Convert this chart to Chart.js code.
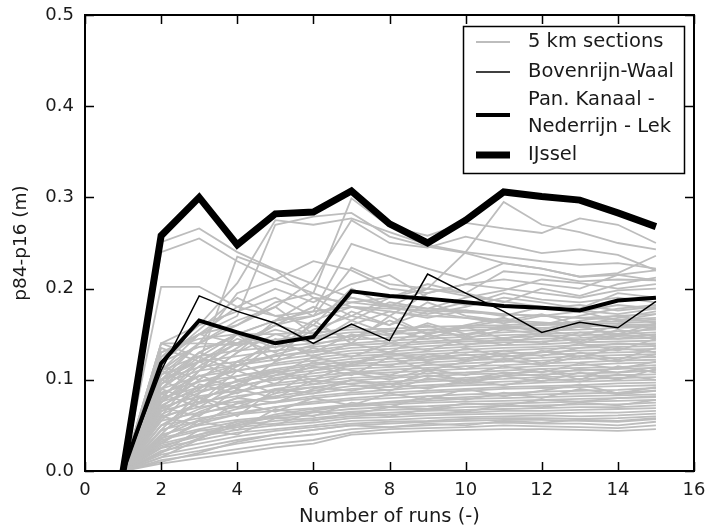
<!DOCTYPE html>
<html>
<head>
<meta charset="utf-8">
<script src="https://cdn.jsdelivr.net/npm/chart.js@4.4.1/dist/chart.umd.min.js"></script>
<style>
  html, body { margin: 0; padding: 0; background: #ffffff; }
  #wrap { width: 707px; height: 532px; position: relative; }
</style>
</head>
<body>
<div id="wrap"><canvas id="c" width="707" height="532"></canvas></div>
<script>
// ---------- DATA ----------
const runs = [1, 2, 3, 4, 5, 6, 7, 8, 9, 10, 11, 12, 13, 14, 15];
const xTicks = [0, 2, 4, 6, 8, 10, 12, 14, 16];
const yTicks = [0.0, 0.1, 0.2, 0.3, 0.4, 0.5];

const ijssel       = [0, 0.258, 0.300, 0.248, 0.282, 0.284, 0.307, 0.271, 0.250, 0.275, 0.306, 0.301, 0.297, 0.283, 0.268];
const panKanaal    = [0, 0.118, 0.165, 0.152, 0.140, 0.147, 0.197, 0.192, 0.189, 0.185, 0.181, 0.179, 0.176, 0.187, 0.190];
const bovenrijn    = [0, 0.110, 0.192, 0.175, 0.162, 0.140, 0.161, 0.143, 0.216, 0.195, 0.175, 0.152, 0.163, 0.157, 0.186];

// 5 km sections (grey lines), one row per section
const sections5km = [
  [0,0.008,0.014,0.020,0.026,0.030,0.040,0.042,0.044,0.045,0.046,0.046,0.045,0.044,0.046],
  [0,0.012,0.018,0.024,0.030,0.034,0.042,0.046,0.047,0.048,0.050,0.049,0.048,0.047,0.050],
  [0,0.015,0.022,0.030,0.036,0.040,0.046,0.048,0.050,0.052,0.053,0.052,0.052,0.050,0.054],
  [0,0.018,0.026,0.034,0.040,0.045,0.050,0.052,0.054,0.055,0.056,0.056,0.055,0.054,0.057],
  [0,0.022,0.030,0.038,0.044,0.048,0.052,0.054,0.055,0.057,0.058,0.058,0.057,0.058,0.060],
  [0,0.025,0.034,0.042,0.046,0.050,0.055,0.056,0.058,0.059,0.060,0.061,0.060,0.061,0.063],
  [0,0.028,0.038,0.045,0.050,0.053,0.058,0.059,0.061,0.062,0.063,0.063,0.064,0.064,0.066],
  [0,0.030,0.040,0.048,0.052,0.056,0.060,0.062,0.063,0.064,0.066,0.066,0.067,0.068,0.069],
  [0,0.034,0.044,0.050,0.055,0.058,0.062,0.064,0.066,0.067,0.068,0.069,0.070,0.070,0.072],
  [0,0.036,0.046,0.054,0.058,0.061,0.065,0.067,0.068,0.070,0.071,0.072,0.073,0.073,0.075],
  [0,0.040,0.050,0.056,0.060,0.064,0.068,0.070,0.071,0.073,0.074,0.075,0.076,0.077,0.078],
  [0,0.026,0.040,0.052,0.062,0.068,0.071,0.073,0.075,0.076,0.077,0.078,0.079,0.080,0.081],
  [0,0.045,0.055,0.062,0.066,0.069,0.073,0.075,0.077,0.079,0.080,0.081,0.082,0.083,0.084],
  [0,0.020,0.036,0.050,0.060,0.066,0.072,0.076,0.079,0.081,0.083,0.084,0.085,0.086,0.088],
  [0,0.050,0.058,0.064,0.070,0.074,0.078,0.080,0.082,0.084,0.085,0.087,0.088,0.089,0.091],
  [0,0.032,0.052,0.062,0.070,0.076,0.080,0.083,0.086,0.088,0.090,0.091,0.092,0.093,0.094],
  [0,0.055,0.064,0.070,0.075,0.080,0.084,0.086,0.088,0.090,0.092,0.093,0.094,0.096,0.097],
  [0,0.038,0.056,0.068,0.076,0.082,0.086,0.089,0.092,0.094,0.095,0.097,0.098,0.099,0.100],
  [0,0.060,0.070,0.076,0.080,0.085,0.090,0.092,0.094,0.096,0.098,0.099,0.101,0.102,0.103],
  [0,0.044,0.062,0.074,0.082,0.088,0.093,0.095,0.098,0.100,0.101,0.103,0.104,0.105,0.106],
  [0,0.066,0.076,0.082,0.088,0.092,0.096,0.098,0.100,0.102,0.104,0.106,0.107,0.108,0.110],
  [0,0.050,0.068,0.080,0.090,0.095,0.099,0.102,0.104,0.106,0.107,0.109,0.110,0.112,0.113],
  [0,0.070,0.082,0.088,0.094,0.098,0.102,0.104,0.107,0.108,0.110,0.112,0.113,0.114,0.116],
  [0,0.058,0.074,0.086,0.096,0.101,0.106,0.108,0.110,0.112,0.113,0.115,0.116,0.118,0.119],
  [0,0.076,0.088,0.094,0.100,0.104,0.108,0.111,0.113,0.115,0.116,0.118,0.119,0.121,0.122],
  [0,0.062,0.080,0.092,0.102,0.107,0.112,0.114,0.116,0.118,0.120,0.121,0.123,0.124,0.125],
  [0,0.080,0.092,0.098,0.105,0.110,0.115,0.117,0.119,0.121,0.123,0.124,0.126,0.127,0.128],
  [0,0.068,0.086,0.098,0.108,0.113,0.117,0.120,0.122,0.124,0.126,0.127,0.129,0.130,0.131],
  [0,0.086,0.098,0.104,0.110,0.116,0.120,0.123,0.125,0.127,0.129,0.130,0.132,0.133,0.134],
  [0,0.072,0.092,0.104,0.112,0.118,0.123,0.126,0.128,0.130,0.132,0.134,0.135,0.136,0.137],
  [0,0.090,0.104,0.110,0.116,0.121,0.126,0.128,0.131,0.133,0.135,0.136,0.138,0.139,0.140],
  [0,0.078,0.098,0.110,0.118,0.124,0.129,0.131,0.134,0.136,0.138,0.139,0.141,0.142,0.143],
  [0,0.096,0.110,0.116,0.122,0.127,0.132,0.134,0.137,0.139,0.141,0.142,0.144,0.145,0.146],
  [0,0.100,0.114,0.120,0.126,0.130,0.135,0.137,0.140,0.142,0.143,0.145,0.146,0.148,0.149],
  [0,0.084,0.104,0.116,0.126,0.132,0.138,0.140,0.142,0.144,0.146,0.148,0.149,0.150,0.152],
  [0,0.106,0.120,0.126,0.132,0.136,0.140,0.143,0.145,0.147,0.149,0.150,0.152,0.153,0.155],
  [0,0.110,0.126,0.132,0.136,0.140,0.144,0.146,0.148,0.150,0.152,0.154,0.155,0.157,0.158],
  [0,0.120,0.136,0.140,0.142,0.145,0.148,0.150,0.152,0.154,0.156,0.157,0.158,0.160,0.161],
  [0,0.140,0.140,0.138,0.144,0.148,0.152,0.153,0.155,0.157,0.158,0.160,0.161,0.162,0.164],
  [0,0.130,0.145,0.150,0.150,0.152,0.155,0.156,0.158,0.159,0.160,0.162,0.163,0.164,0.166],
  [0,0.040,0.080,0.060,0.090,0.085,0.100,0.092,0.110,0.098,0.105,0.112,0.100,0.115,0.108],
  [0,0.110,0.090,0.120,0.100,0.115,0.105,0.125,0.110,0.120,0.128,0.118,0.130,0.122,0.135],
  [0,0.135,0.120,0.100,0.110,0.095,0.108,0.100,0.112,0.105,0.115,0.108,0.118,0.112,0.120],
  [0,0.060,0.050,0.075,0.065,0.080,0.072,0.085,0.078,0.090,0.082,0.088,0.095,0.085,0.092],
  [0,0.095,0.130,0.115,0.145,0.125,0.140,0.130,0.150,0.138,0.145,0.140,0.152,0.145,0.150],
  [0,0.070,0.060,0.090,0.080,0.100,0.095,0.088,0.102,0.096,0.104,0.098,0.108,0.100,0.112],
  [0,0.125,0.150,0.140,0.160,0.150,0.158,0.148,0.162,0.150,0.158,0.155,0.148,0.160,0.156],
  [0,0.050,0.075,0.100,0.085,0.110,0.120,0.115,0.128,0.122,0.132,0.126,0.135,0.140,0.138],
  [0,0.085,0.070,0.095,0.110,0.100,0.118,0.130,0.120,0.135,0.125,0.130,0.140,0.132,0.145],
  [0,0.030,0.055,0.045,0.068,0.060,0.075,0.070,0.082,0.078,0.086,0.080,0.090,0.084,0.088],
  [0,0.115,0.100,0.130,0.150,0.140,0.165,0.150,0.160,0.145,0.155,0.150,0.160,0.148,0.158],
  [0,0.075,0.105,0.090,0.120,0.135,0.125,0.140,0.132,0.146,0.138,0.150,0.142,0.155,0.147],
  [0,0.100,0.080,0.070,0.085,0.092,0.088,0.096,0.090,0.100,0.094,0.102,0.098,0.106,0.100],
  [0,0.020,0.045,0.040,0.058,0.055,0.064,0.060,0.068,0.065,0.072,0.070,0.075,0.072,0.078],
  [0,0.140,0.125,0.150,0.135,0.160,0.145,0.165,0.150,0.158,0.145,0.152,0.140,0.150,0.145],
  [0,0.060,0.110,0.150,0.120,0.165,0.140,0.170,0.150,0.160,0.168,0.155,0.165,0.170,0.162],
  [0,0.105,0.140,0.160,0.180,0.150,0.175,0.160,0.185,0.170,0.165,0.172,0.160,0.168,0.175],
  [0,0.070,0.100,0.130,0.165,0.190,0.170,0.160,0.175,0.168,0.162,0.170,0.175,0.165,0.172],
  [0,0.120,0.155,0.190,0.170,0.160,0.200,0.180,0.172,0.180,0.190,0.185,0.178,0.195,0.190],
  [0,0.080,0.115,0.140,0.155,0.145,0.160,0.175,0.168,0.176,0.170,0.180,0.175,0.182,0.178],
  [0,0.045,0.085,0.120,0.140,0.130,0.150,0.140,0.155,0.148,0.160,0.152,0.158,0.150,0.162],
  [0,0.055,0.095,0.085,0.105,0.125,0.115,0.130,0.122,0.128,0.120,0.132,0.125,0.135,0.130],
  [0,0.090,0.075,0.110,0.095,0.120,0.110,0.105,0.118,0.112,0.122,0.116,0.126,0.120,0.128],
  [0,0.035,0.065,0.080,0.075,0.090,0.100,0.095,0.105,0.100,0.108,0.104,0.112,0.108,0.114],
  [0,0.015,0.035,0.055,0.050,0.065,0.062,0.070,0.068,0.074,0.072,0.078,0.076,0.080,0.082],
  [0,0.010,0.020,0.032,0.040,0.045,0.050,0.048,0.052,0.050,0.055,0.053,0.056,0.055,0.058],
  [0,0.100,0.120,0.145,0.130,0.155,0.170,0.190,0.205,0.195,0.185,0.200,0.192,0.205,0.212],
  [0,0.095,0.125,0.110,0.140,0.165,0.180,0.170,0.195,0.205,0.210,0.205,0.200,0.215,0.220],
  [0,0.075,0.110,0.135,0.160,0.180,0.165,0.185,0.178,0.190,0.198,0.210,0.206,0.200,0.205],
  [0,0.065,0.090,0.115,0.128,0.138,0.148,0.155,0.145,0.158,0.165,0.160,0.170,0.178,0.182],
  [0,0.251,0.266,0.240,0.221,0.205,0.190,0.182,0.178,0.176,0.172,0.170,0.168,0.166,0.168],
  [0,0.240,0.255,0.230,0.210,0.195,0.180,0.175,0.170,0.168,0.165,0.163,0.160,0.158,0.160],
  [0,0.202,0.202,0.180,0.170,0.175,0.180,0.178,0.176,0.174,0.172,0.170,0.168,0.170,0.172],
  [0,0.130,0.150,0.170,0.270,0.279,0.283,0.257,0.246,0.239,0.228,0.222,0.213,0.215,0.209],
  [0,0.140,0.160,0.206,0.275,0.270,0.277,0.262,0.248,0.240,0.235,0.230,0.226,0.228,0.222],
  [0,0.120,0.150,0.160,0.185,0.195,0.299,0.268,0.258,0.272,0.266,0.261,0.277,0.270,0.250],
  [0,0.110,0.140,0.165,0.180,0.209,0.275,0.250,0.245,0.257,0.248,0.239,0.243,0.237,0.220],
  [0,0.100,0.130,0.150,0.165,0.175,0.249,0.235,0.222,0.210,0.228,0.222,0.213,0.217,0.236],
  [0,0.090,0.120,0.140,0.160,0.170,0.223,0.205,0.200,0.195,0.219,0.215,0.208,0.210,0.209],
  [0,0.080,0.120,0.235,0.220,0.190,0.185,0.180,0.175,0.185,0.180,0.178,0.182,0.176,0.180],
  [0,0.100,0.140,0.195,0.210,0.230,0.220,0.200,0.195,0.205,0.200,0.195,0.190,0.198,0.200],
  [0,0.110,0.150,0.180,0.200,0.185,0.205,0.215,0.190,0.182,0.195,0.188,0.185,0.190,0.185],
  [0,0.125,0.160,0.175,0.190,0.170,0.190,0.180,0.200,0.192,0.186,0.180,0.176,0.172,0.178],
  [0,0.090,0.130,0.150,0.165,0.170,0.185,0.190,0.200,0.240,0.295,0.270,0.262,0.250,0.243]
];

// ---------- CHART ----------
const FONT = "'DejaVu Sans', 'Liberation Sans', sans-serif";
const TXT = '#1a1a1a';
const GREY = '#bdbdbd';

function pts(vals) { return runs.map((r, i) => ({ x: r, y: vals[i] })); }

const datasets = [
  { label: 'IJssel', data: pts(ijssel), borderColor: '#000', borderWidth: 7, order: 0, borderJoinStyle: 'miter' },
  { label: 'Pan. Kanaal - Nederrijn - Lek', data: pts(panKanaal), borderColor: '#000', borderWidth: 4, order: 1, borderJoinStyle: 'miter' },
  { label: 'Bovenrijn-Waal', data: pts(bovenrijn), borderColor: '#000', borderWidth: 1.5, order: 2, borderJoinStyle: 'miter' }
];
sections5km.forEach((s, i) => {
  datasets.push({ label: i === 0 ? '5 km sections' : '', data: pts(s), borderColor: GREY, borderWidth: 1.8, order: 3 });
});

const framePlugin = {
  id: 'frameTicks',
  afterDraw(chart) {
    const { ctx, chartArea: a, scales: { x, y } } = chart;
    ctx.save();
    ctx.strokeStyle = '#000';
    ctx.lineWidth = 1.5;
    const L = 9;
    ctx.beginPath();
    xTicks.forEach(v => {
      const px = Math.round(x.getPixelForValue(v)) + 0.5;
      ctx.moveTo(px, a.bottom); ctx.lineTo(px, a.bottom - L);
      ctx.moveTo(px, a.top); ctx.lineTo(px, a.top + L);
    });
    yTicks.forEach(v => {
      const py = Math.round(y.getPixelForValue(v)) + 0.5;
      ctx.moveTo(a.left, py); ctx.lineTo(a.left + L, py);
      ctx.moveTo(a.right, py); ctx.lineTo(a.right - L, py);
    });
    ctx.stroke();
    ctx.lineWidth = 2;
    ctx.strokeRect(a.left, a.top, a.right - a.left, a.bottom - a.top);

    // legend box
    const bx = 463, by = 26, bw = 221, bh = 147;
    ctx.fillStyle = '#fff';
    ctx.fillRect(bx, by, bw, bh);
    ctx.lineWidth = 1.5;
    ctx.strokeStyle = '#000';
    ctx.strokeRect(bx + 0.5, by + 0.5, bw, bh);
    ctx.font = '19.5px ' + FONT;
    ctx.fillStyle = TXT;
    ctx.textBaseline = 'middle';
    ctx.textAlign = 'left';
    const entries = [
      { y: 42, lines: ['5 km sections'], ly: 42, color: GREY, w: 1.8 },
      { y: 72, lines: ['Bovenrijn-Waal'], ly: 72, color: '#000', w: 1.5 },
      { y: 100, lines: ['Pan. Kanaal -', 'Nederrijn - Lek'], ly: 115, color: '#000', w: 4 },
      { y: 155, lines: ['IJssel'], ly: 155, color: '#000', w: 7 }
    ];
    entries.forEach(e => {
      ctx.strokeStyle = e.color;
      ctx.lineWidth = e.w;
      ctx.beginPath();
      ctx.moveTo(476, e.ly); ctx.lineTo(510, e.ly);
      ctx.stroke();
      e.lines.forEach((t, k) => ctx.fillText(t, 528, e.y + k * 27));
    });
    ctx.restore();
  }
};

new Chart(document.getElementById('c'), {
  type: 'line',
  data: { datasets },
  options: {
    responsive: false,
    animation: false,
    devicePixelRatio: 1,
    layout: { padding: { left: 0, right: 13, top: 15, bottom: 0 } },
    elements: { point: { radius: 0 }, line: { tension: 0, borderCapStyle: 'butt' } },
    plugins: { legend: { display: false }, tooltip: { enabled: false } },
    scales: {
      x: {
        type: 'linear', min: 0, max: 16,
        afterBuildTicks(s) { s.ticks = xTicks.map(v => ({ value: v })); },
        afterFit(s) { s.height = 61; },
        ticks: { font: { family: FONT, size: 18 }, color: TXT, padding: 0, maxRotation: 0 },
        grid: { display: false, drawTicks: true, tickLength: 9 },
        border: { display: false },
        title: { display: true, text: 'Number of runs (-)', font: { family: FONT, size: 19.5 }, color: TXT, padding: { top: 0, bottom: 3 } }
      },
      y: {
        type: 'linear', min: 0, max: 0.5,
        afterBuildTicks(s) { s.ticks = yTicks.map(v => ({ value: v })); },
        afterFit(s) { s.width = 85; },
        ticks: { font: { family: FONT, size: 18 }, color: TXT, padding: 0, callback: v => v.toFixed(1) },
        grid: { display: false, drawTicks: true, tickLength: 11 },
        border: { display: false },
        title: { display: true, text: 'p84-p16 (m)', font: { family: FONT, size: 18.5 }, color: TXT, padding: { top: 10, bottom: 0 } }
      }
    }
  },
  plugins: [framePlugin]
});
</script>
</body>
</html>
